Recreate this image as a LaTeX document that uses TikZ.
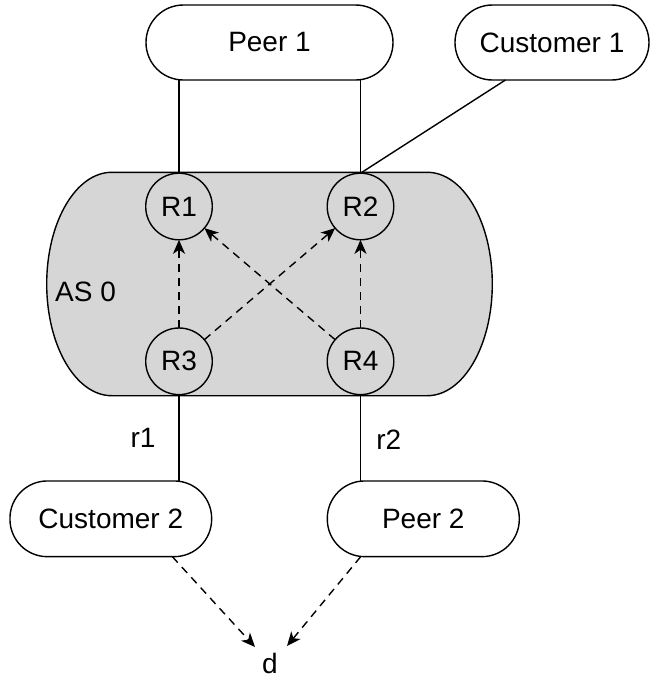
\documentclass[tikz,border=0pt]{standalone}
\usepackage{fontspec}
\setmainfont{Liberation Sans}
\usetikzlibrary{arrows.meta,calc}
\definecolor{asgrey}{RGB}{214,214,214}
\begin{document}
\begin{tikzpicture}[x=1pt,y=-1pt,
  every node/.style={font=\fontsize{28}{33}\selectfont},
  line/.style={line width=1.4pt},
  box/.style={draw, line width=1.4pt, rectangle, rounded corners=37.4pt, inner sep=0pt, outer sep=0pt, minimum height=75pt, fill=white},
  router/.style={draw, line width=1.4pt, circle, minimum size=66.6pt, inner sep=0pt, outer sep=0pt},
  dasharrow/.style={line width=1.4pt, dash pattern=on 8pt off 6pt, -{Stealth[length=14pt,width=12pt,inset=4pt]}},
  lbl/.style={inner sep=0pt}]
\fill[white] (0,0) rectangle (650,681);
\useasboundingbox (0,0) rectangle (650,681);
% AS 0 region
\path[draw, fill=asgrey, line width=1.4pt] (46.7,284) arc[start angle=180,end angle=270,x radius=65,y radius=111.7] -- (427.3,172.3) arc[start angle=270,end angle=360,x radius=65,y radius=111.7] arc[start angle=0,end angle=90,x radius=65,y radius=111.7] -- (111.7,395.7) arc[start angle=90,end angle=180,x radius=65,y radius=111.7] -- cycle;
\node[lbl, anchor=west] (as0) at (55,292) {AS 0};
% boxes
\node[box, minimum width=247pt] (peer1) at (269.5,42.5) {Peer 1};
\node[box, minimum width=194pt] (cust1) at (552,42.5) {Customer 1};
\node[box, minimum width=201.7pt, minimum height=75.7pt] (cust2) at (110.8,518.8) {Customer 2};
\node[box, minimum width=192pt, minimum height=75.7pt] (peer2) at (423.3,518.8) {Peer 2};
% routers
\node[router] (r1) at (179,206.5) {R1};
\node[router] (r2) at (360.5,206.5) {R2};
\node[router] (r3) at (179,361.3) {R3};
\node[router] (r4) at (360.5,361.3) {R4};
% destination
\node[lbl, anchor=base] (d) at (270,673.5) {d};
\coordinate (dl) at (255,647);
\coordinate (dr) at (287,646);
% link labels
\node[lbl, anchor=base] (lr1) at (143,447) {r1};
\node[lbl, anchor=base] (lr2) at (388.7,449) {r2};
% solid links
\draw[line] (r1.north |- peer1.south) -- (r1.north);
\draw[line] (r2.north |- peer1.south) -- (r2.north);
\draw[line] ($(cust1.south west)!0.26!(cust1.south east)$) -- (r2.north);
\draw[line] (r3.south) -- (r3.south |- cust2.north);
\draw[line] (r4.south) -- (r4.south |- peer2.north);
% dashed arrows
\draw[dasharrow] (r3) -- (r1);
\draw[dasharrow] (r3) -- (r2);
\draw[dasharrow] (r4) -- (r1);
\draw[dasharrow] (r4) -- (r2);
\draw[dasharrow] ($(cust2.south west)!0.805!(cust2.south east)$) -- (dl);
\draw[dasharrow] ($(peer2.south west)!0.174!(peer2.south east)$) -- (dr);
\end{tikzpicture}
\end{document}
